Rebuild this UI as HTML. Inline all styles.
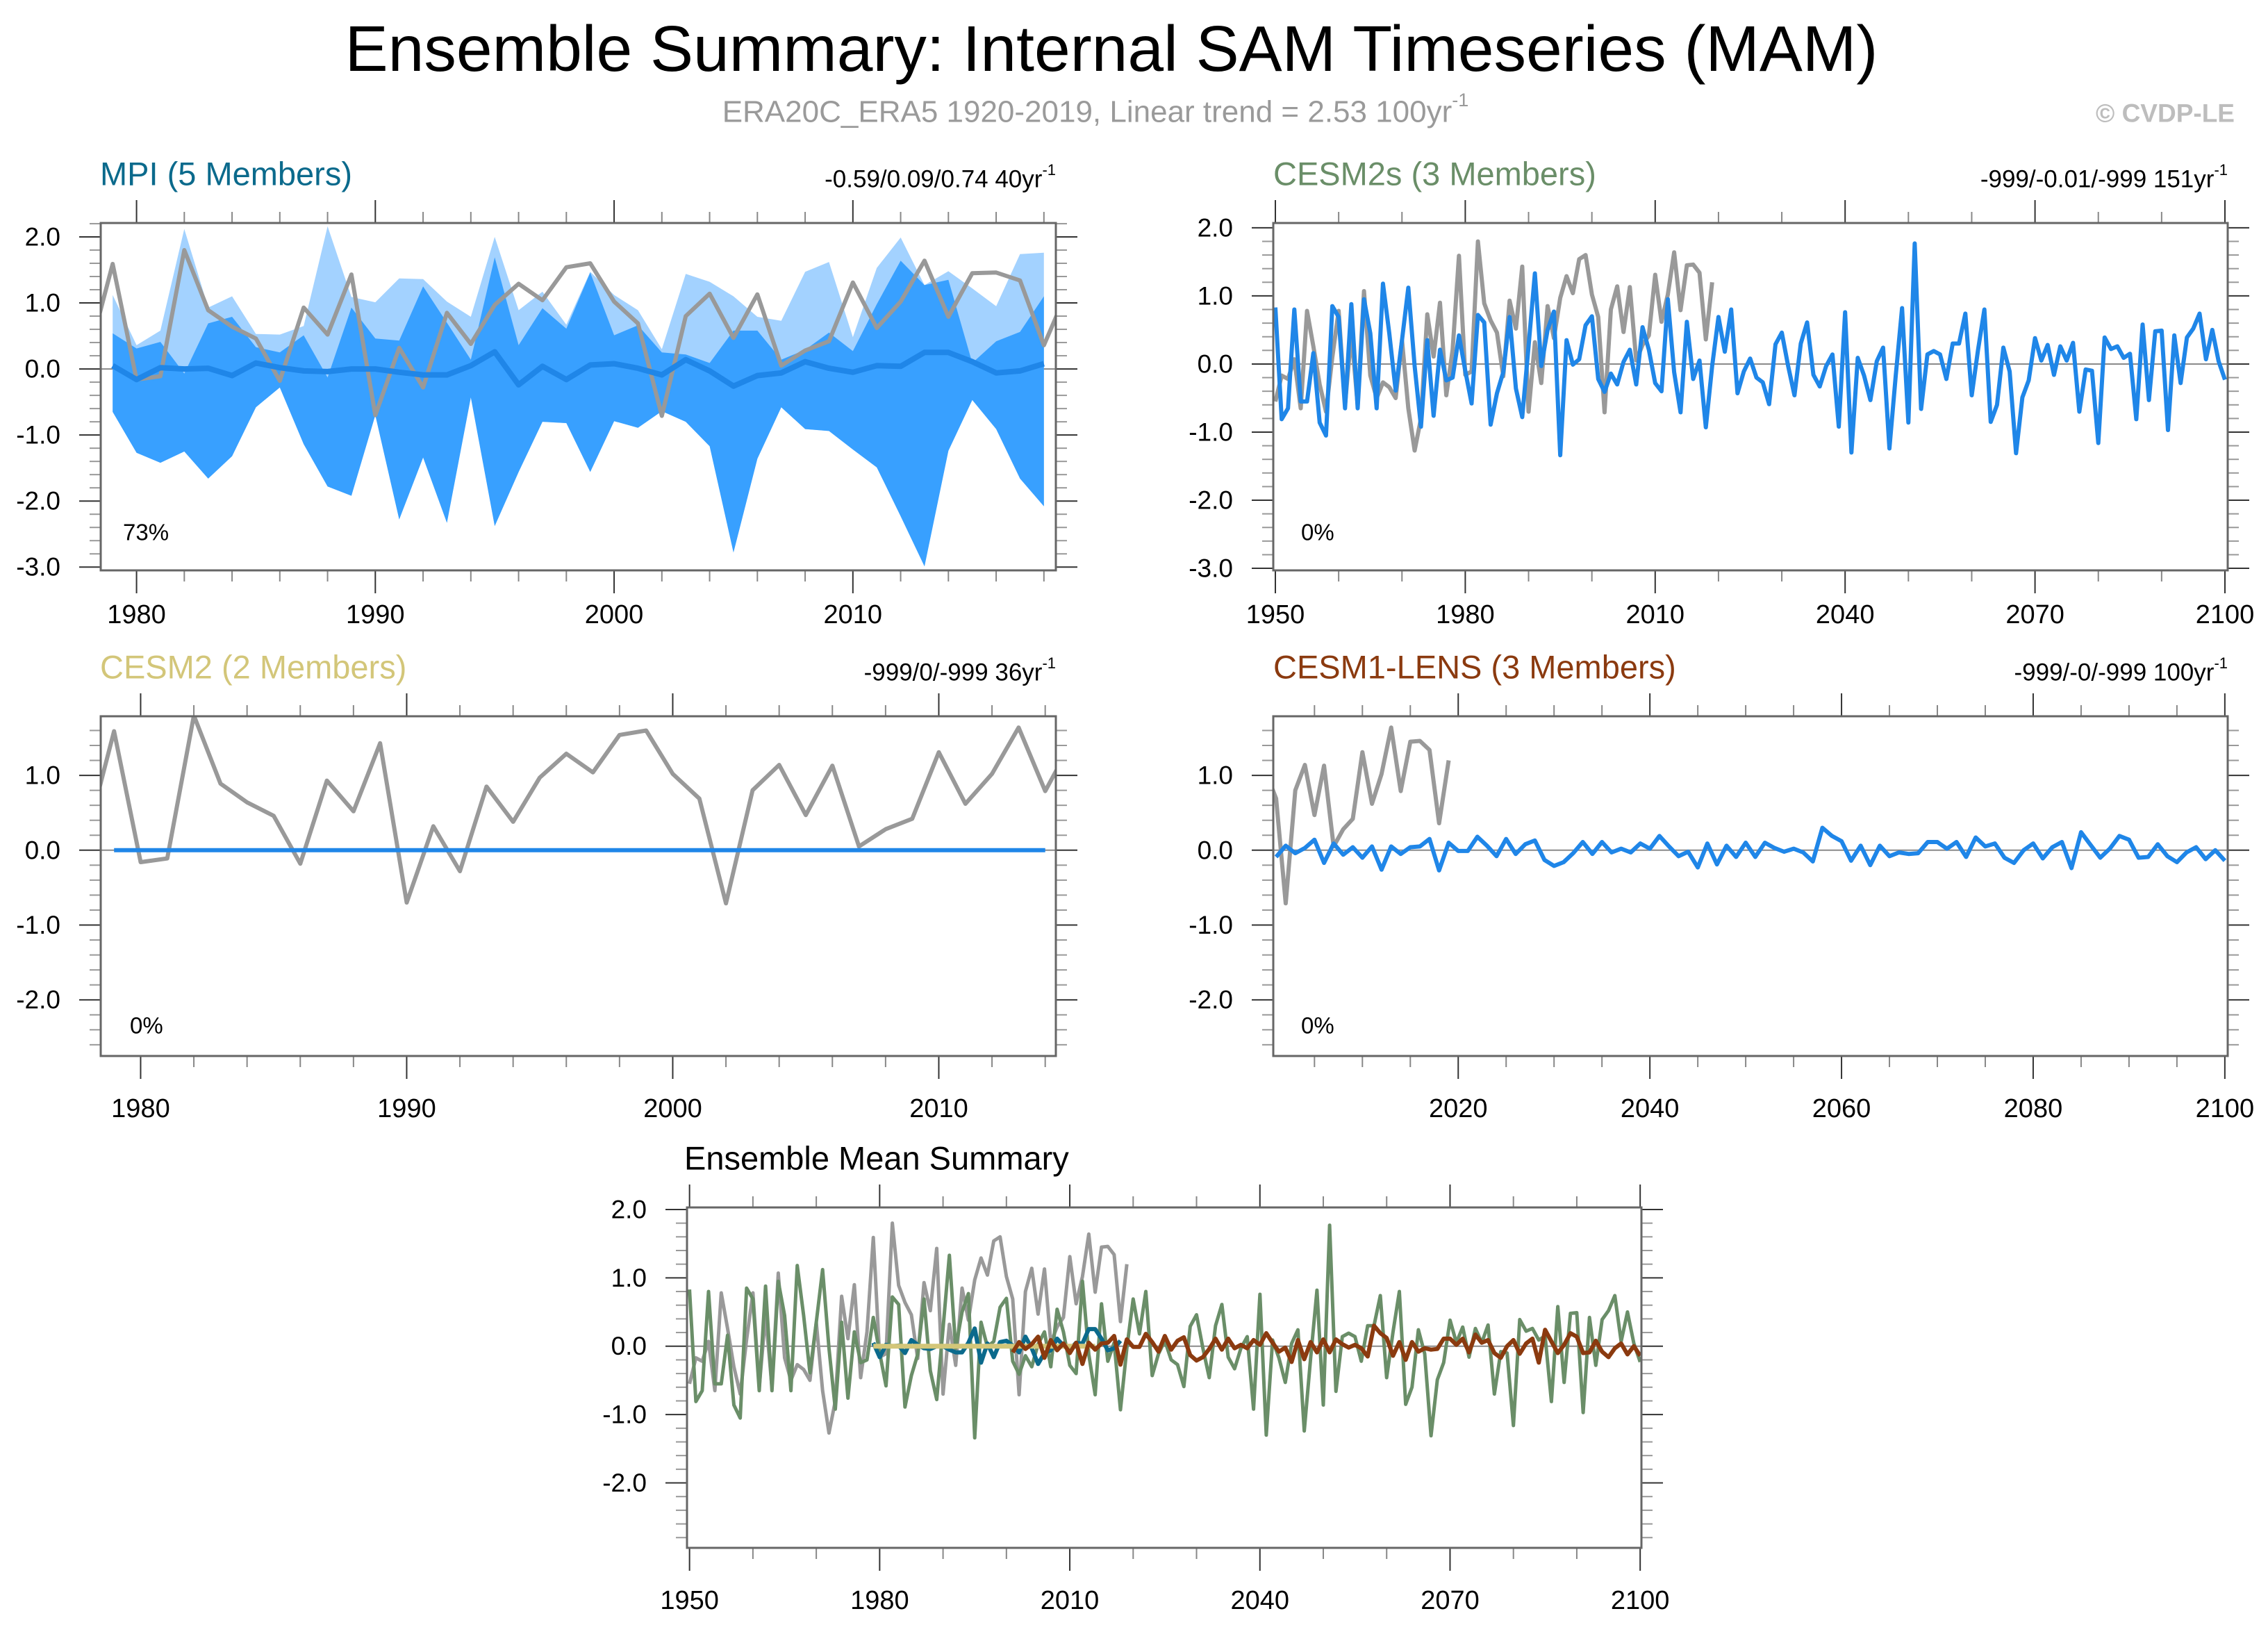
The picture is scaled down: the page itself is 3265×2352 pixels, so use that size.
<!DOCTYPE html>
<html><head><meta charset="utf-8">
<style>
html,body{margin:0;padding:0;background:#fff;}
svg{display:block;font-family:"Liberation Sans",Arial,sans-serif;}
</style></head>
<body>
<svg id="chart" xmlns="http://www.w3.org/2000/svg" width="3265" height="2352" viewBox="0 0 3265 2352">
<rect x="0" y="0" width="3265" height="2352" fill="#fff"/>
<text x="1600" y="70" font-size="93" text-anchor="middle" dominant-baseline="central" fill="#000">Ensemble Summary: Internal SAM Timeseries (MAM)</text>
<text x="1577" y="161" font-size="44" text-anchor="middle" dominant-baseline="central" fill="#9a9a9a">ERA20C_ERA5 1920-2019, Linear trend = 2.53 100yr<tspan font-size="27" dy="-17">-1</tspan></text>
<text x="3217" y="163" font-size="37" font-weight="bold" text-anchor="end" dominant-baseline="central" fill="#bdbdbd">© CVDP-LE</text>
</svg>
<script>
// ---------- data ----------
const obsYears = [1950,2019];
const obsValues = [-0.55,-0.17,-0.22,0.07,-0.65,0.78,0.26,-0.3,-0.7,0.1,
0.78,-0.6,0.45,-0.6,1.07,-0.17,-0.5,-0.27,-0.34,-0.5,
0.35,-0.65,-1.27,-0.8,0.73,0.11,0.9,-0.46,0.21,1.59,
-0.16,-0.11,1.8,0.89,0.64,0.46,-0.18,0.93,0.52,1.43,
-0.7,0.32,-0.28,0.85,0.38,0.97,1.29,1.04,1.54,1.6,
1.02,0.69,-0.71,0.8,1.14,0.47,1.13,0.05,0.28,0.42,
1.31,0.62,1.02,1.64,0.79,1.45,1.46,1.34,0.36,1.2];

const mpiYears = [1979,2018];
const mpiMean = [0.05,-0.16,0.02,0.0,0.01,-0.1,0.09,0.02,-0.03,-0.04,
0.0,0.0,-0.05,-0.09,-0.09,0.05,0.26,-0.24,0.04,-0.16,
0.06,0.08,0.01,-0.09,0.14,-0.03,-0.26,-0.1,-0.06,0.11,
0.01,-0.05,0.05,0.04,0.25,0.25,0.11,-0.06,-0.03,0.08];
const mpiMax = [1.12,0.36,0.58,2.12,0.93,1.1,0.53,0.52,0.65,2.16,
1.09,1.01,1.37,1.36,1.02,0.79,2.0,0.89,1.17,0.67,
1.47,1.12,0.89,0.3,1.44,1.32,1.1,0.79,0.73,1.47,
1.62,0.48,1.53,1.99,1.27,1.48,1.22,0.95,1.74,1.76];
const mpiUpper = [0.54,0.31,0.41,-0.07,0.69,0.79,0.33,0.25,0.51,-0.13,
0.93,0.46,0.43,1.25,0.7,0.14,1.69,0.36,0.92,0.61,
1.46,0.51,0.66,0.25,0.22,0.09,0.58,0.58,0.14,0.29,
0.55,0.27,0.98,1.64,1.27,1.35,0.09,0.42,0.56,1.1];
const mpiMin = [-0.65,-1.27,-1.42,-1.25,-1.66,-1.32,-0.58,-0.28,-1.14,-1.78,
-1.92,-0.7,-2.28,-1.34,-2.33,-0.43,-2.38,-1.56,-0.8,-0.82,
-1.56,-0.79,-0.89,-0.64,-0.8,-1.17,-2.78,-1.36,-0.58,-0.91,
-0.94,-1.22,-1.49,-2.23,-2.99,-1.24,-0.47,-0.91,-1.66,-2.08];

const cesm2sYears = [1950,2100];
const cesm2sMean = [0.83,-0.81,-0.65,0.8,-0.55,-0.55,0.16,-0.86,-1.05,0.85,
0.69,-0.65,0.88,-0.65,0.95,0.45,-0.65,1.18,0.45,-0.39,
0.35,1.12,-0.03,-0.92,0.35,-0.76,0.21,-0.24,-0.2,0.42,
-0.1,-0.58,0.72,0.61,-0.89,-0.43,-0.12,0.69,-0.36,-0.78,
0.26,1.33,-0.03,0.5,0.77,-1.34,0.35,-0.01,0.07,0.57,
0.7,-0.22,-0.41,-0.14,-0.3,0.03,0.21,-0.3,0.54,0.21,
-0.28,-0.4,0.95,-0.12,-0.71,0.62,-0.22,0.05,-0.93,-0.03,
0.69,0.18,0.8,-0.43,-0.11,0.08,-0.2,-0.27,-0.59,0.29,
0.46,-0.03,-0.46,0.3,0.61,-0.16,-0.33,-0.03,0.14,-0.92,
0.76,-1.3,0.09,-0.17,-0.53,0.04,0.24,-1.24,-0.17,0.82,
-0.86,1.77,-0.66,0.14,0.19,0.14,-0.22,0.3,0.3,0.74,
-0.46,0.21,0.8,-0.85,-0.6,0.24,-0.11,-1.31,-0.49,-0.24,
0.38,0.05,0.28,-0.16,0.26,0.05,0.31,-0.7,-0.08,-0.1,
-1.16,0.39,0.22,0.26,0.09,0.15,-0.81,0.58,-0.53,0.48,
0.49,-0.97,0.42,-0.28,0.39,0.52,0.74,0.07,0.5,0.04,-0.23];

const cesm2Years = [1979,2014];
const cesm2Mean = [0,0,0,0,0,0,0,0,0,0,0,0,0,0,0,0,0,0,0,0,0,0,0,0,0,0,0,0,0,0,0,0,0,0,0,0];

const cesm1Years = [2001,2100];
const cesm1Mean = [-0.09,0.06,-0.04,0.03,0.14,-0.17,0.09,-0.06,0.04,-0.1,
0.05,-0.26,0.05,-0.05,0.04,0.05,0.15,-0.27,0.1,-0.01,
-0.01,0.18,0.06,-0.08,0.15,-0.05,0.08,0.13,-0.13,-0.21,
-0.16,-0.04,0.11,-0.05,0.11,-0.03,0.02,-0.03,0.09,0.02,
0.19,0.05,-0.08,-0.02,-0.23,0.09,-0.19,0.06,-0.09,0.1,
-0.09,0.1,0.03,-0.02,0.02,-0.03,-0.15,0.3,0.19,0.12,
-0.14,0.06,-0.2,0.06,-0.08,-0.03,-0.05,-0.04,0.11,0.11,
0.02,0.11,-0.09,0.17,0.05,0.09,-0.1,-0.17,0,0.09,
-0.11,0.04,0.11,-0.24,0.24,0.07,-0.1,0.02,0.19,0.14,
-0.1,-0.09,0.08,-0.08,-0.16,-0.03,0.04,-0.12,0,-0.14];

const yTickLabels = ["2.0","1.0","0.0","-1.0","-2.0","-3.0"];
const yTickValues = [2,1,0,-1,-2,-3];

// ---------- helpers ----------
const NS = "http://www.w3.org/2000/svg";
const svg = document.getElementById("chart");
function el(tag, parent){ const e = document.createElementNS(NS, tag); parent.appendChild(e); return e; }
function yrs(r, vals){ const out=[]; for(let i=0;i<vals.length;i++) out.push(r[0]+i); return out; }
let clipId = 0;

function panel(cfg){
  const g = el("g", svg);
  
  
  const sx = v => cfg.x0 + (v - cfg.xmin) / (cfg.xmax - cfg.xmin) * (cfg.x1 - cfg.x0);
  const sy = v => cfg.y0 + (cfg.ymax - v) / (cfg.ymax - cfg.ymin) * (cfg.y1 - cfg.y0);
  cfg.sx = sx; cfg.sy = sy;
  clipId++;
  const cp = el("clipPath", g); cp.setAttribute("id", "clip" + clipId);
  const cr = el("rect", cp);
  cr.setAttribute("x", cfg.x0); cr.setAttribute("y", cfg.y0);
  cr.setAttribute("width", cfg.x1 - cfg.x0); cr.setAttribute("height", cfg.y1 - cfg.y0);
  const plot = el("g", g);
  plot.setAttribute("clip-path", "url(#clip" + clipId + ")");
  
  
  cfg.plot = plot;
  // x ticks
  for (let yv = Math.ceil(cfg.xmin / cfg.xminor) * cfg.xminor; yv <= cfg.xmax + 1e-6; yv += cfg.xminor){
    const major = Math.abs(yv % cfg.xmajor) < 1e-6;
    const x = sx(yv), L = major ? 33 : 16;
    const c = major ? "#333" : "#888";
    for (const [ya, yb] of [[cfg.y0, cfg.y0 - L], [cfg.y1, cfg.y1 + L]]){
      const t = el("line", g);
      t.setAttribute("x1", x); t.setAttribute("x2", x); t.setAttribute("y1", ya); t.setAttribute("y2", yb);
      t.setAttribute("stroke", c); t.setAttribute("stroke-width", 2);
    }
    if (major){
      const lb = el("text", g);
      
      
      lb.setAttribute("x", x); lb.setAttribute("y", cfg.y1 + cfg.xlabDy);
      lb.setAttribute("font-size", 38); lb.setAttribute("text-anchor", "middle");
      lb.setAttribute("dominant-baseline", "central");
      lb.textContent = String(Math.round(yv));
    }
  }
  // y ticks
  for (let k = Math.ceil(cfg.ymin * 5); k <= Math.floor(cfg.ymax * 5); k++){
    const v = k / 5, major = k % 5 === 0, y = sy(v);
    const L = major ? 31 : 16, c = major ? "#333" : "#999";
    for (const [xa, xb] of [[cfg.x0, cfg.x0 - L], [cfg.x1, cfg.x1 + L]]){
      const t = el("line", g);
      t.setAttribute("x1", xa); t.setAttribute("x2", xb); t.setAttribute("y1", y); t.setAttribute("y2", y);
      t.setAttribute("stroke", c); t.setAttribute("stroke-width", 2);
    }
  }
  yTickValues.forEach((v, i) => {
    if (v < cfg.ymin - 1e-6 || v > cfg.ymax + 1e-6) return;
    const lb = el("text", g);
    
    
    lb.setAttribute("x", cfg.x0 - 58); lb.setAttribute("y", sy(v));
    lb.setAttribute("font-size", 37); lb.setAttribute("text-anchor", "end");
    lb.setAttribute("dominant-baseline", "central");
    lb.textContent = yTickLabels[i];
  });
  // zero line
  const z = el("line", plot);
  
  
  z.setAttribute("x1", cfg.x0); z.setAttribute("x2", cfg.x1);
  z.setAttribute("y1", sy(0)); z.setAttribute("y2", sy(0));
  z.setAttribute("stroke", "#8a8a8a"); z.setAttribute("stroke-width", 2);
  // titles
  const tt = el("text", g);
  
  
  tt.setAttribute("x", cfg.titleX); tt.setAttribute("y", cfg.y0 - 71);
  tt.setAttribute("font-size", 47); tt.setAttribute("fill", cfg.titleColor);
  tt.setAttribute("dominant-baseline", "central");
  tt.textContent = cfg.title;
  if (cfg.stat){
    const st = el("text", g);
    
    
    st.setAttribute("x", cfg.x1); st.setAttribute("y", cfg.y0 - 63);
    st.setAttribute("font-size", 35); st.setAttribute("text-anchor", "end");
    st.setAttribute("dominant-baseline", "central");
    st.textContent = cfg.stat;
    const sup = el("tspan", st);
    sup.setAttribute("font-size", 22); sup.setAttribute("dy", -14);
    sup.textContent = "-1";
  }
  if (cfg.pct){
    const p = el("text", g);
    
    
    p.setAttribute("x", cfg.x0 + cfg.pctDx); p.setAttribute("y", cfg.pctY);
    p.setAttribute("font-size", 33); p.setAttribute("dominant-baseline", "central");
    p.textContent = cfg.pct;
  }
  cfg.g = g;
  return cfg;
}
function frame(cfg){
  const f = el("rect", cfg.g);
  
  
  f.setAttribute("x", cfg.x0); f.setAttribute("y", cfg.y0);
  f.setAttribute("width", cfg.x1 - cfg.x0); f.setAttribute("height", cfg.y1 - cfg.y0);
  f.setAttribute("fill", "none"); f.setAttribute("stroke", "#666"); f.setAttribute("stroke-width", 3);
}
function line(cfg, range, vals, color, w, name){
  const ys = yrs(range, vals);
  const p = el("polyline", cfg.plot);
  
  
  p.setAttribute("points", vals.map((v, i) => cfg.sx(ys[i]).toFixed(1) + "," + cfg.sy(v).toFixed(1)).join(" "));
  p.setAttribute("fill", "none"); p.setAttribute("stroke", color); p.setAttribute("stroke-width", w);
  p.setAttribute("stroke-linejoin", "round");
}
function band(cfg, range, hi, lo, color, name){
  const ys = yrs(range, hi);
  const pts = hi.map((v, i) => cfg.sx(ys[i]).toFixed(1) + "," + cfg.sy(v).toFixed(1));
  for (let i = lo.length - 1; i >= 0; i--) pts.push(cfg.sx(ys[i]).toFixed(1) + "," + cfg.sy(lo[i]).toFixed(1));
  const p = el("polygon", cfg.plot);
  
  
  p.setAttribute("points", pts.join(" "));
  p.setAttribute("fill", color);
}

// ---------- panels ----------
const P1 = panel({name:"mpi-panel", x0:145, x1:1520, y0:321, y1:821, xmin:1978.5, xmax:2018.5, ymin:-3.05, ymax:2.21, xlabDy:64,
  xmajor:10, xminor:2, title:"MPI (5 Members)", titleX:144, titleColor:"#0b6a8c", stat:"-0.59/0.09/0.74 40yr", pct:"73%", pctDx:32, pctY:766});
band(P1, mpiYears, mpiMax, mpiMin, "#a3d2ff", "mpi-member-range-band");
band(P1, mpiYears, mpiUpper, mpiMin, "#38a0ff", "mpi-spread-band");
line(P1, obsYears, obsValues, "#999", 6, "observed-sam-line");
line(P1, mpiYears, mpiMean, "#1f86e8", 8, "mpi-ensemble-mean-line");
frame(P1);

const P2 = panel({name:"cesm2s-panel", x0:1833, x1:3207, y0:321, y1:821, xmin:1949.67, xmax:2100.44, ymin:-3.03, ymax:2.07, xlabDy:64,
  xmajor:30, xminor:10, title:"CESM2s (3 Members)", titleX:1833, titleColor:"#6a8e68", stat:"-999/-0.01/-999 151yr", pct:"0%", pctDx:40, pctY:766});
line(P2, obsYears, obsValues, "#999", 6, "observed-sam-line");
line(P2, cesm2sYears, cesm2sMean, "#1f86e8", 6, "cesm2s-ensemble-mean-line");
frame(P2);

const P3 = panel({name:"cesm2-panel", x0:145, x1:1520, y0:1031, y1:1520, xmin:1978.5, xmax:2014.4, ymin:-2.75, ymax:1.79, xlabDy:76,
  xmajor:10, xminor:2, title:"CESM2 (2 Members)", titleX:144, titleColor:"#d3c679", stat:"-999/0/-999 36yr", pct:"0%", pctDx:42, pctY:1476});
line(P3, obsYears, obsValues, "#999", 6, "observed-sam-line");
line(P3, cesm2Years, cesm2Mean, "#1f86e8", 6, "cesm2-ensemble-mean-line");
frame(P3);

const P4 = panel({name:"cesm1-lens-panel", x0:1833, x1:3207, y0:1031, y1:1520, xmin:2000.7, xmax:2100.3, ymin:-2.75, ymax:1.79, xlabDy:76,
  xmajor:20, xminor:5, title:"CESM1-LENS (3 Members)", titleX:1833, titleColor:"#8b3a0f", stat:"-999/-0/-999 100yr", pct:"0%", pctDx:40, pctY:1476});
line(P4, obsYears, obsValues, "#999", 6, "observed-sam-line");
line(P4, cesm1Years, cesm1Mean, "#1f86e8", 6, "cesm1-ensemble-mean-line");
frame(P4);

const P5 = panel({name:"ensemble-mean-summary-panel", x0:989, x1:2363, y0:1738, y1:2228, xmin:1949.6, xmax:2100.2, ymin:-2.95, ymax:2.03, xlabDy:76,
  xmajor:30, xminor:10, title:"Ensemble Mean Summary", titleX:985, titleColor:"#000"});
line(P5, obsYears, obsValues, "#999", 5, "observed-sam-line");
line(P5, cesm2sYears, cesm2sMean, "#6a8e68", 5, "cesm2s-mean-line");
line(P5, mpiYears, mpiMean, "#0b6a8c", 6, "mpi-mean-line");
line(P5, cesm2Years, cesm2Mean, "#d3c679", 7, "cesm2-mean-line");
line(P5, cesm1Years, cesm1Mean, "#8b3a0f", 6, "cesm1-lens-mean-line");
frame(P5);
</script>
</body></html>
